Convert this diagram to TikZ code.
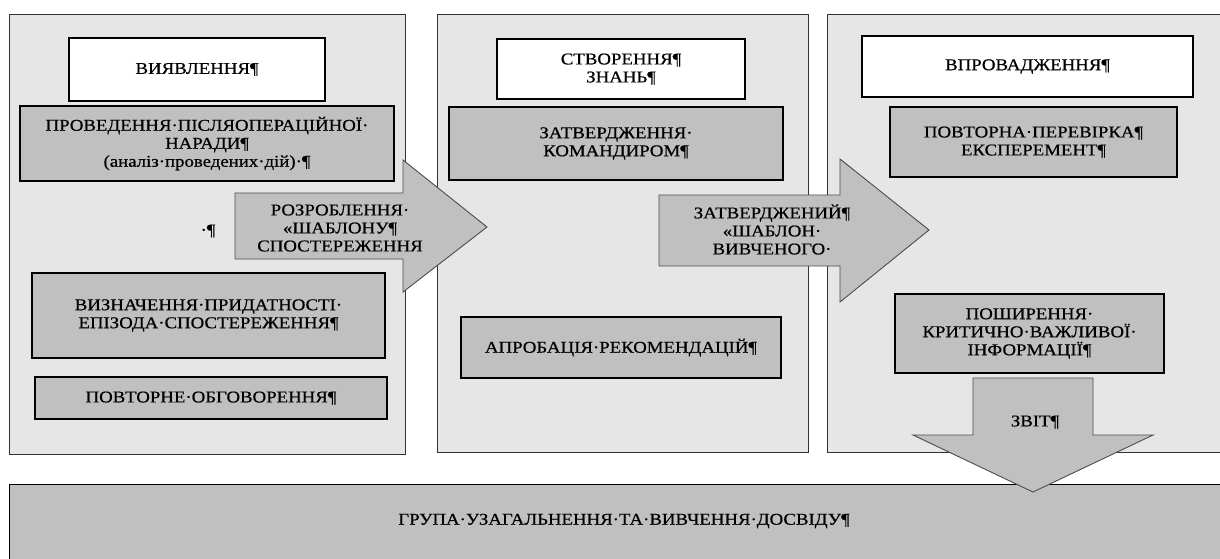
\documentclass[tikz,border=0pt]{standalone}
\usepackage{fontspec}
\setmainfont{Liberation Serif}[FakeStretch=1.14, FakeBold=0.6]
\newcommand\diagfont{\fontsize{16.5}{18}\selectfont}
\newcommand\diagsmall{\fontsize{16.5}{18}\selectfont}
\definecolor{panelgray}{HTML}{E6E6E6}
\definecolor{boxgray}{HTML}{C0C0C0}
\begin{document}
\begin{tikzpicture}[x=1pt,y=-1pt,
  panel/.style={draw=black!80, line width=1pt, fill=panelgray, rectangle, inner sep=0},
  box/.style={draw=black, line width=1.1pt, fill=boxgray, rectangle, align=center, inner sep=0, font=\diagfont},
  wbox/.style={box, fill=white},
  bigarrow/.style={draw=black!70, line width=0.9pt, fill=boxgray},
  lbl/.style={align=center, font=\diagfont, inner sep=0}]
\useasboundingbox (0,0) rectangle (1220,558);
\fill[white] (0,0) rectangle (1220,558);
% panels
\node[panel, minimum width=396, minimum height=440] (p1) at (207,234) {};
\node[panel, minimum width=371, minimum height=438] (p2) at (622.5,233) {};
\node[panel, minimum width=403, minimum height=438] (p3) at (1028.5,233) {};
% bottom bar
\node[box, line width=1pt, minimum width=1221, minimum height=86] (bar) at (619.5,527) {};
\node[lbl] (barlbl) at (624,521) {ГРУПА·УЗАГАЛЬНЕННЯ·ТА·ВИВЧЕННЯ·ДОСВІДУ¶};
% panel 1
\node[wbox, minimum width=256, minimum height=63] (b1) at (197,69.5) {ВИЯВЛЕННЯ¶};
\node[box, minimum width=374, minimum height=75] (b2) at (207,143.5)
  {ПРОВЕДЕННЯ·ПІСЛЯОПЕРАЦІЙНОЇ·\\НАРАДИ¶\\{\diagsmall (аналіз·проведених·дій)·¶}};
\node[box, minimum width=353, minimum height=85] (b3) at (208.5,315.5)
  {ВИЗНАЧЕННЯ·ПРИДАТНОСТІ·\\ЕПІЗОДА·СПОСТЕРЕЖЕННЯ¶};
\node[box, minimum width=352, minimum height=42] (b4) at (211,398) {ПОВТОРНЕ·ОБГОВОРЕННЯ¶};
\node[lbl] (para) at (208,231) {·¶};
% panel 2
\node[wbox, minimum width=248, minimum height=60] (c1) at (621,69) {СТВОРЕННЯ¶\\ЗНАНЬ¶};
\node[box, line width=1.5pt, minimum width=334, minimum height=73] (c2) at (616,143.5)
  {ЗАТВЕРДЖЕННЯ·\\КОМАНДИРОМ¶};
\node[box, minimum width=320, minimum height=61] (c3) at (621,347.5) {АПРОБАЦІЯ·РЕКОМЕНДАЦІЙ¶};
% panel 3
\node[wbox, line width=1.8pt, minimum width=331, minimum height=61] (d1) at (1027.5,66.5) {ВПРОВАДЖЕННЯ¶};
\node[box, line width=1.4pt, minimum width=287, minimum height=70] (d2) at (1033.5,142)
  {ПОВТОРНА·ПЕРЕВІРКА¶\\ЕКСПЕРЕМЕНТ¶};
\node[box, minimum width=269, minimum height=79] (d3) at (1029.5,333.5)
  {ПОШИРЕННЯ·\\КРИТИЧНО·ВАЖЛИВОЇ·\\ІНФОРМАЦІЇ¶};
% arrow 1
\draw[bigarrow] (235,193) -- (403,193) -- (403,160) -- (487,227) -- (403,292) -- (403,259) -- (235,259) -- cycle;
\node[lbl] (a1) at (340,228) {РОЗРОБЛЕННЯ·\\«ШАБЛОНУ¶\\СПОСТЕРЕЖЕННЯ};
% arrow 2
\draw[bigarrow] (659,195) -- (840,195) -- (840,159) -- (929,230) -- (840,302) -- (840,266) -- (659,266) -- cycle;
\node[lbl] (a2) at (772,229.5) {ЗАТВЕРДЖЕНИЙ¶\\«ШАБЛОН·\\ВИВЧЕНОГО·};
% arrow 3 (down)
\draw[bigarrow] (973,378) -- (1093,378) -- (1093,435) -- (1153,435) -- (1033,492) -- (913,435) -- (973,435) -- cycle;
\node[lbl] (a3) at (1035,422) {ЗВІТ¶};
\end{tikzpicture}
\end{document}
